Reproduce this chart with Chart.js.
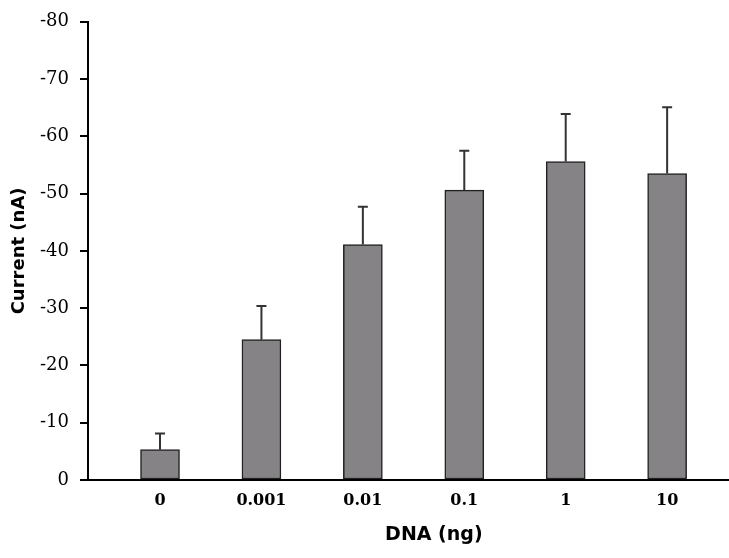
<!DOCTYPE html>
<html>
<head>
<meta charset="utf-8">
<script src="https://cdn.jsdelivr.net/npm/chart.js@4/dist/chart.umd.min.js"></script>
<style>
  html, body { margin: 0; padding: 0; background: #fff; }
  #wrap { width: 729px; height: 558px; }
</style>
</head>
<body>
<div id="wrap"><canvas id="chartBar"></canvas></div>
<script>
// data (current in nA, plotted negative)
var categories = ["0", "0.001", "0.01", "0.1", "1", "10"];
var currentValues = [-5.3, -24.5, -41.1, -50.6, -55.6, -53.5];
var errorValues = [2.8, 5.9, 6.6, 6.9, 8.3, 11.6];
var yTicks = [-80, -70, -60, -50, -40, -30, -20, -10, 0];
var xTitle = "DNA (ng)";

// draws the error bars upward from the top of each bar
var errorBars = {
    id: "errorBars",
    afterDatasetsDraw: function (chart) {
        var ctx = chart.ctx;
        var yScale = chart.scales.y;
        var meta = chart.getDatasetMeta(0);
        ctx.save();
        ctx.strokeStyle = "#333";
        ctx.lineWidth = 2;
        meta.data.forEach(function (bar, i) {
            var yTop = yScale.getPixelForValue(currentValues[i] - errorValues[i]);
            ctx.beginPath();
            ctx.moveTo(bar.x, bar.y);
            ctx.lineTo(bar.x, yTop);
            ctx.moveTo(bar.x - 5, yTop);
            ctx.lineTo(bar.x + 5, yTop);
            ctx.stroke();
        });
        ctx.restore();
    },
};

// x title sits a bit right of the axis centre in the original
var xTitlePlugin = {
    id: "xTitle",
    afterDraw: function (chart) {
        var ctx = chart.ctx;
        var xScale = chart.scales.x;
        ctx.save();
        ctx.font = "bold 19px 'DejaVu Sans'";
        ctx.fillStyle = "#000";
        ctx.textAlign = "center";
        ctx.textBaseline = "middle";
        ctx.fillText(xTitle, xScale.getPixelForValue(2.7), 535);
        ctx.restore();
    },
};

var ctx = document.getElementById("chartBar").getContext("2d");

const chartBar = new Chart(ctx, {
    type: "bar",
    data: {
    datasets: [
        {
        label: "Current",
        data: currentValues.map(function (v, i) { return { x: i, y: v }; }),
        backgroundColor: "#858385",
        borderColor: "#222",
        borderWidth: 1.5,
        borderSkipped: false,
        barThickness: 39,
        },
    ],
    },
    options: {
    responsive: true,
    maintainAspectRatio: false,
    animation: false,
    layout: {
        padding: { top: 17, right: 0, left: 0, bottom: 0 },
    },
    plugins: {
        legend: { display: false },
        tooltip: { enabled: false },
    },
    scales: {
        x: {
        type: "linear",
        offset: false,
        min: -0.71,
        max: 5.61,
        afterBuildTicks: function (scale) {
            scale.ticks = categories.map(function (c, i) { return { value: i }; });
        },
        afterFit: function (scale) { scale.height = 78; },
        grid: { display: false, offset: false },
        border: { display: true, color: "#000", width: 2 },
        ticks: {
            color: "#000",
            padding: 3,
            maxRotation: 0,
            autoSkip: false,
            font: { family: "DejaVu Serif", size: 16, weight: "bold" },
            callback: function (value) { return categories[value]; },
        },
        },
        y: {
        reverse: true,
        min: -80,
        max: 0,
        afterBuildTicks: function (scale) {
            scale.ticks = yTicks.map(function (v) { return { value: v }; });
        },
        afterFit: function (scale) { scale.width = 88; },
        grid: {
            drawOnChartArea: false,
            drawTicks: true,
            tickLength: 8,
            color: "#000",
            lineWidth: 2,
        },
        border: { display: true, color: "#000", width: 2 },
        ticks: {
            color: "#000",
            padding: 11,
            font: { family: "DejaVu Serif", size: 18 },
        },
        title: {
            display: true,
            text: "Current (nA)",
            color: "#000",
            font: { family: "DejaVu Sans", size: 18, weight: "bold" },
            padding: { top: 9, bottom: 0 },
        },
        },
    },
    },
    plugins: [errorBars, xTitlePlugin],
});
</script>
</body>
</html>
